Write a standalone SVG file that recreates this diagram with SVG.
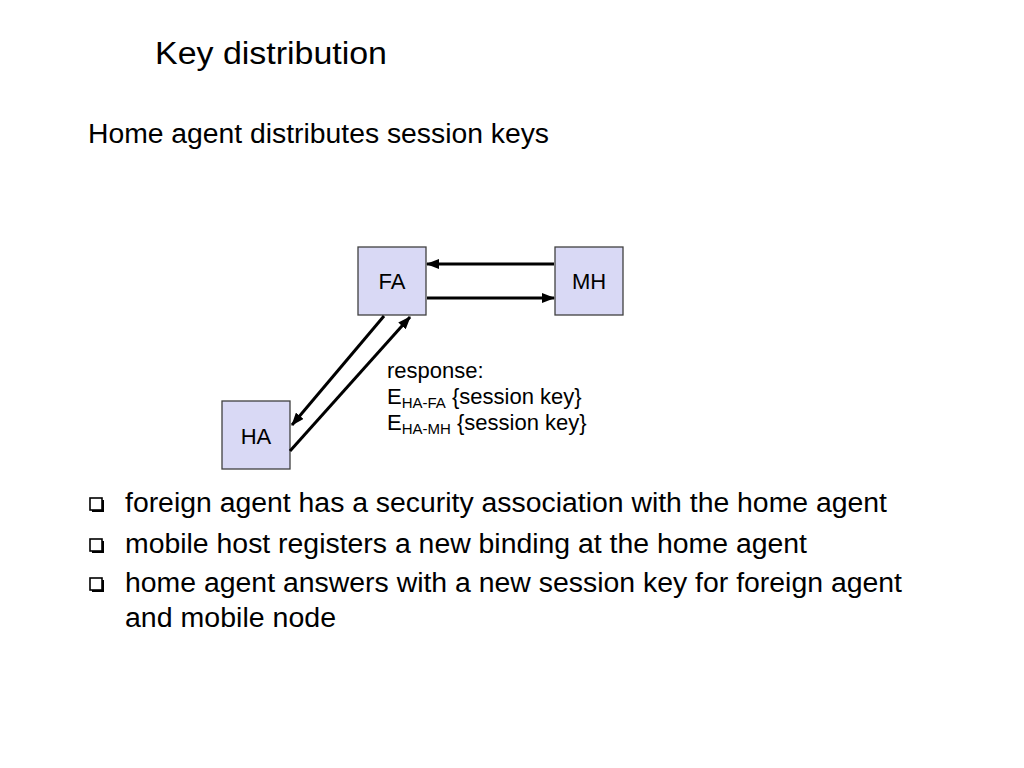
<svg xmlns="http://www.w3.org/2000/svg" width="1024" height="768" viewBox="0 0 1024 768">
<defs>
<style>
text{font-family:"Liberation Sans",Arial,sans-serif;fill:#000}
.box{fill:#d9d9f5;stroke:#404040;stroke-width:1.3}
.lbl{font-size:22px;text-anchor:middle}
.con{stroke:#000;stroke-width:3;fill:none;marker-end:url(#ah)}
.bul{font-size:27px}
.resp{font-size:22px}
.sub{font-size:15px}
.sq{fill:#fff;stroke:#000;stroke-width:1.6}
</style>
<marker id="ah" markerWidth="13" markerHeight="10" refX="12" refY="5" orient="auto" markerUnits="userSpaceOnUse" viewBox="0 0 13 10">
<path d="M0,0 L13,5 L0,10 Z" fill="#000"/>
</marker>
</defs>
<rect width="1024" height="768" fill="#fff"/>
<text x="155" y="64" font-size="31" textLength="232" lengthAdjust="spacingAndGlyphs">Key distribution</text>
<text x="88" y="143" font-size="27" textLength="461" lengthAdjust="spacingAndGlyphs">Home agent distributes session keys</text>
<g id="FA"><rect class="box" x="358" y="247" width="68" height="68"/><text class="lbl" x="392" y="289">FA</text></g>
<g id="MH"><rect class="box" x="555" y="247" width="68" height="68"/><text class="lbl" x="589" y="289">MH</text></g>
<g id="HA"><rect class="box" x="222" y="401" width="68" height="68"/><text class="lbl" x="256" y="444">HA</text></g>
<g id="connectors">
<line class="con" x1="554" y1="264" x2="427" y2="264"/>
<line class="con" x1="427" y1="298" x2="554" y2="298"/>
<line class="con" x1="384" y1="316" x2="292" y2="425"/>
<line class="con" x1="290" y1="451" x2="410" y2="317"/>
</g>
<g id="response">
<text class="resp" x="387" y="378">response:</text>
<text class="resp" x="387" y="404">E<tspan class="sub" dy="4">HA-FA</tspan><tspan dy="-4"> {session key}</tspan></text>
<text class="resp" x="387" y="430">E<tspan class="sub" dy="4">HA-MH</tspan><tspan dy="-4"> {session key}</tspan></text>
</g>
<g id="bullets">
<g id="b1"><rect x="92" y="500" width="12" height="12" fill="#000"/><rect class="sq" x="90" y="498" width="12" height="12"/></g>
<g id="b2"><rect x="92" y="541" width="12" height="12" fill="#000"/><rect class="sq" x="90" y="539" width="12" height="12"/></g>
<g id="b3"><rect x="92" y="580" width="12" height="12" fill="#000"/><rect class="sq" x="90" y="578" width="12" height="12"/></g>
<text class="bul" x="125" y="512" textLength="762" lengthAdjust="spacingAndGlyphs">foreign agent has a security association with the home agent</text>
<text class="bul" x="125" y="553" textLength="682" lengthAdjust="spacingAndGlyphs">mobile host registers a new binding at the home agent</text>
<text class="bul" x="125" y="592" textLength="777" lengthAdjust="spacingAndGlyphs">home agent answers with a new session key for foreign agent</text>
<text class="bul" x="125" y="627" textLength="211" lengthAdjust="spacingAndGlyphs">and mobile node</text>
</g>
</svg>
